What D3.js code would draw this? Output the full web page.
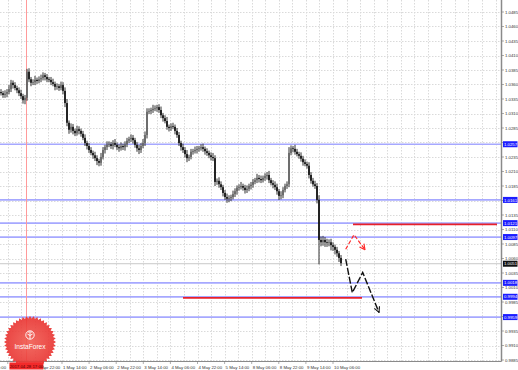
<!DOCTYPE html>
<html><head><meta charset="utf-8">
<script src="https://cdn.jsdelivr.net/npm/d3@7"></script>
<style>html,body{margin:0;padding:0;background:#fff;overflow:hidden}svg{display:block}</style>
</head><body><svg id="c" width="518" height="370"></svg>
<script>
// ---- data ----
const firstOpen = 1.0347;
const closes = [
1.0345,1.0342,1.0344,1.0347,1.0352,1.0363,1.0359,1.0354,1.0350,1.0345,
1.0340,1.0333,1.0337,1.0382,1.0369,1.0363,1.0364,1.0368,1.0366,1.0369,
1.0371,1.0376,1.0373,1.0369,1.0368,1.0364,1.0361,1.0356,1.0357,1.0354,
1.0359,1.0349,1.0328,1.0294,1.0282,1.0287,1.0280,1.0276,1.0283,1.0280,
1.0275,1.0268,1.0259,1.0254,1.0247,1.0242,1.0238,1.0233,1.0228,1.0225,
1.0235,1.0247,1.0252,1.0256,1.0257,1.0254,1.0259,1.0256,1.0252,1.0250,
1.0254,1.0252,1.0257,1.0263,1.0266,1.0268,1.0264,1.0256,1.0250,1.0247,
1.0254,1.0259,1.0273,1.0313,1.0314,1.0316,1.0318,1.0319,1.0321,1.0316,
1.0307,1.0302,1.0297,1.0287,1.0285,1.0288,1.0287,1.0280,1.0273,1.0259,
1.0252,1.0247,1.0240,1.0233,1.0235,1.0244,1.0245,1.0247,1.0249,1.0250,
1.0252,1.0249,1.0245,1.0242,1.0238,1.0235,1.0233,1.0192,1.0194,1.0188,
1.0183,1.0173,1.0166,1.0163,1.0164,1.0166,1.0171,1.0176,1.0182,1.0183,
1.0185,1.0182,1.0178,1.0180,1.0185,1.0187,1.0192,1.0195,1.0199,1.0197,
1.0195,1.0199,1.0202,1.0204,1.0195,1.0190,1.0187,1.0183,1.0176,1.0168,
1.0169,1.0178,1.0185,1.0188,1.0242,1.0250,1.0249,1.0244,1.0240,1.0237,
1.0232,1.0226,1.0223,1.0220,1.0204,1.0194,1.0188,1.0185,1.0161,1.0092,
1.0088,1.0092,1.0088,1.0087,1.0088,1.0083,1.0080,1.0075,1.0069,1.0061,1.0052];
// upper / lower wick length in pips
const wickUp = [
5,4,6,5,7,5,4,5,4,5, 6,4,5,5,6,4,5,7,4,5, 6,5,4,5,4,5,6,4,5,4, 6,5,6,7,4,6,5,4,6,5,
4,5,6,4,5,5,4,6,5,4, 7,5,4,6,5,4,5,7,4,5, 6,4,5,5,4,6,5,4,5,6, 5,7,6,6,5,4,7,5,4,5,
6,4,5,7,4,5,6,4,5,5, 4,6,5,7,4,5,4,6,5,4, 5,6,4,5,4,5,7,5,4,6, 5,4,5,6,5,4,6,5,4,5,
7,4,5,6,4,5,5,4,7,5, 6,4,5,5,7,4,5,6,6,4, 7,5,4,5,10,5,4,7,5,4, 6,5,5,4,6,5,5,6,5,8,
6,7,5,6,5,6,5,4,5,4,5];
const wickDown = [
4,5,5,6,4,5,6,4,5,5, 5,6,7,5,5,6,4,5,5,4, 5,4,6,5,4,5,4,6,5,5, 4,6,7,6,7,5,6,5,4,6,
5,4,5,6,5,4,6,5,7,6, 5,4,6,5,4,5,6,4,5,6, 4,5,6,5,4,5,6,5,6,7, 5,4,5,6,4,5,5,4,6,5,
5,6,4,5,6,5,4,6,5,5, 6,5,6,7,5,4,5,4,6,5, 4,5,6,5,5,6,5,7,5,6, 5,6,5,7,6,5,4,5,6,5,
4,5,6,5,4,6,5,4,5,6, 5,4,5,6,5,4,6,5,6,7, 6,5,4,5,5,4,6,5,4,5, 5,6,4,5,6,5,4,5,6,42,
7,6,8,7,6,9,7,8,6,7,5];
const priceTickLabels = ["1.0485","1.0460","1.0435","1.0410","1.0385","1.0360","1.0335","1.0310",
"1.0285","1.0260","1.0235","1.0210","1.0185","1.0160","1.0135","1.0110","1.0085","1.0060",
"1.0035","1.0010","0.9985","0.9960","0.9935","0.9910","0.9885"];
const timeTickLabels = ["27 Apr 14:00","28 Apr 06:00","28 Apr 22:00","1 May 14:00","2 May 06:00",
"2 May 22:00","3 May 14:00","4 May 06:00","4 May 22:00","5 May 14:00","8 May 06:00",
"8 May 22:00","9 May 14:00","10 May 06:00"];
const levels = [1.0257, 1.0161, 1.0121, 1.0097, 1.0018, 0.9994, 0.9959];
const currentPrice = 1.0051;
const markerHour = 27, markerLabel = "2017.04.28 17:00";
const redSegments = [[176, 248, 1.0119], [91, 180.5, 0.9992]];
const redArrow = [[172.35, 1.0076], [176.5, 1.0101], [182, 1.0075]];
const blackArrow = [[172.35, 1.0059], [175.65, 1.0001], [180.85, 1.0036], [189, 0.9967]];

// ---- scales ----
const svg = d3.select("#c");
const x = d3.scaleLinear().domain([0, 250]).range([1, 501]);
const y = d3.scaleLinear().domain([0.9885, 1.0485]).range([360, 12]);
const tx = d3.scaleLinear().domain([0, 208]).range([-19.3, 333]);
const R = 501.5, B = 361.5;
const FONT = "'Liberation Sans', Arial, sans-serif";
const mx = tx(markerHour);

const defs = svg.append("defs");
defs.append("clipPath").attr("id","plot").append("rect").attr("x",0).attr("y",0).attr("width",R).attr("height",B);
defs.append("clipPath").attr("id","tclip").append("rect").attr("x",mx+17).attr("y",B).attr("width",518).attr("height",10);
const mk = (id,col)=>defs.append("marker").attr("id",id).attr("viewBox","0 0 10 10").attr("refX",9).attr("refY",5)
  .attr("markerWidth",7).attr("markerHeight",7).attr("markerUnits","userSpaceOnUse").attr("orient","auto")
  .append("path").attr("d","M1,1 L9,5 L1,9").attr("fill","none").attr("stroke",col).attr("stroke-width",1.6);
mk("ar","#ff2a2a"); mk("ab","#111");

const plot = svg.append("g").attr("clip-path","url(#plot)");

// grid
const priceVals = priceTickLabels.map(Number);
plot.selectAll("line.hg").data(priceVals).join("line")
  .attr("x1",0).attr("x2",R).attr("y1",d=>Math.round(y(d))+0.5).attr("y2",d=>Math.round(y(d))+0.5)
  .attr("stroke","#dadada").attr("stroke-width",1).attr("stroke-dasharray","1.5,1.5");
const gridHours = d3.range(0, 312, 8);
plot.selectAll("line.vg").data(gridHours).join("line")
  .attr("y1",0).attr("y2",B).attr("x1",d=>Math.round(tx(d))+0.5).attr("x2",d=>Math.round(tx(d))+0.5)
  .attr("stroke","#dadada").attr("stroke-width",1).attr("stroke-dasharray","1.5,1.5");

// current price line
plot.append("line").attr("x1",0).attr("x2",R).attr("y1",y(currentPrice)).attr("y2",y(currentPrice))
  .attr("stroke","#c8c8c8").attr("stroke-width",1);

// blue levels
plot.selectAll("line.lv").data(levels).join("line")
  .attr("x1",0).attr("x2",R).attr("y1",d=>y(d)).attr("y2",d=>y(d))
  .attr("stroke","#a6a8ff").attr("stroke-width",1.7);

// marker vertical line
plot.append("line").attr("x1",Math.round(mx)+0.5).attr("x2",Math.round(mx)+0.5)
  .attr("y1",0).attr("y2",B).attr("stroke","#ff9a9a").attr("stroke-width",1);

// candles
const candles = closes.map((c,i)=>{const o = i ? closes[i-1] : firstOpen;
  return {i,o,c,h:Math.max(o,c)+wickUp[i]*1e-4,l:Math.min(o,c)-wickDown[i]*1e-4};});
const cg = plot.append("g");
cg.selectAll("line").data(candles).join("line")
  .attr("x1",d=>x(d.i)).attr("x2",d=>x(d.i)).attr("y1",d=>y(d.h)).attr("y2",d=>y(d.l))
  .attr("stroke","#333").attr("stroke-width",1);
cg.selectAll("rect").data(candles).join("rect")
  .attr("x",d=>x(d.i)-0.85).attr("width",1.7)
  .attr("y",d=>y(Math.max(d.o,d.c))).attr("height",d=>Math.max(0.8,Math.abs(y(d.o)-y(d.c))))
  .attr("fill",d=>d.c>=d.o?"#666":"#111");

// red segments
plot.selectAll("line.rs").data(redSegments).join("line")
  .attr("x1",d=>x(d[0])).attr("x2",d=>x(d[1])).attr("y1",d=>y(d[2])).attr("y2",d=>y(d[2]))
  .attr("stroke","#e8202a").attr("stroke-width",1.8);

// arrows
const ln = d3.line().x(d=>x(d[0])).y(d=>y(d[1]));
plot.append("path").attr("d",ln(redArrow)).attr("fill","none").attr("stroke","#ff2a2a")
  .attr("stroke-width",1.2).attr("stroke-dasharray","4,2").attr("marker-end","url(#ar)");
plot.append("path").attr("d",ln(blackArrow)).attr("fill","none").attr("stroke","#111")
  .attr("stroke-width",1.4).attr("stroke-dasharray","7,2").attr("marker-end","url(#ab)");

// axes lines
svg.append("line").attr("x1",R).attr("x2",R).attr("y1",0).attr("y2",B).attr("stroke","#8a8a8a").attr("stroke-width",1.5);
svg.append("line").attr("x1",0).attr("x2",R).attr("y1",B).attr("y2",B).attr("stroke","#8a8a8a").attr("stroke-width",1);

// price axis labels (those under a level label are hidden, as in the picture)
const visibleTicks = priceTickLabels.filter(t=>!levels.some(l=>Math.abs(y(l)-y(+t))<4.5) && Math.abs(y(currentPrice)-y(+t))>=4.5);
const pa = svg.append("g");
pa.selectAll("line").data(priceVals).join("line").attr("x1",R).attr("x2",R+2.5)
  .attr("y1",d=>y(d)).attr("y2",d=>y(d)).attr("stroke","#777").attr("stroke-width",0.6);
pa.selectAll("text").data(visibleTicks).join("text")
  .attr("x",505).attr("y",d=>y(+d)+1.5).text(d=>d)
  .attr("font-family",FONT).attr("font-size",4.3).attr("fill","#333");

// level labels
const lb = svg.append("g");
lb.selectAll("rect").data(levels).join("rect").attr("x",503).attr("width",14.5)
  .attr("y",d=>y(d)-3).attr("height",6).attr("fill","#1c1cff");
lb.selectAll("text").data(levels).join("text").attr("x",504).attr("y",d=>y(d)+1.6)
  .text(d=>d.toFixed(4)).attr("font-family",FONT).attr("font-size",4.3).attr("fill","#fff");
lb.append("rect").attr("x",503).attr("width",14.5).attr("y",y(currentPrice)-3).attr("height",6).attr("fill","#111");
lb.append("text").attr("x",504).attr("y",y(currentPrice)+1.6).text(currentPrice.toFixed(4))
  .attr("font-family",FONT).attr("font-size",4.3).attr("fill","#fff");

// time axis (labels hidden under the marker box are not drawn, partly hidden ones are clipped)
const ta = svg.append("g");
const tIdx = timeTickLabels.map((d,i)=>({d,h:i*16,x:tx(i*16)}));
ta.selectAll("line").data(tIdx).join("line").attr("x1",d=>d.x).attr("x2",d=>d.x)
  .attr("y1",B).attr("y2",B+2.5).attr("stroke","#777").attr("stroke-width",0.6);
ta.selectAll("text").data(tIdx.filter(d=>!(d.x>mx-20 && d.x+24<mx+18))).join("text")
  .attr("x",d=>d.x+1).attr("y",368.5).text(d=>d.d)
  .attr("clip-path",d=>(d.x<mx+17 && d.x+24>mx+17)?"url(#tclip)":null)
  .attr("font-family",FONT).attr("font-size",4.3).attr("fill","#333");

// logo
const lg = svg.append("g").attr("transform","translate(30,342)");
const spikes = 44;
const star = d3.range(spikes*2).map(k=>{const a=k*Math.PI/spikes, r=k%2?23.5:26; return [r*Math.sin(a), -r*Math.cos(a)];});
const grad = defs.append("radialGradient").attr("id","lgg");
grad.append("stop").attr("offset","0%").attr("stop-color","#f05a50");
grad.append("stop").attr("offset","100%").attr("stop-color","#e8302e");
lg.append("path").attr("d","M"+star.join("L")+"Z").attr("fill","url(#lgg)").attr("opacity",0.9);
lg.append("circle").attr("cx",0).attr("cy",-7).attr("r",4.2).attr("fill","none").attr("stroke","#fff").attr("stroke-width",0.9);
lg.append("path").attr("d","M0,-9.5 L0,-2.8 M-2.6,-8 Q0,-5 2.6,-8 M-2,-10 L2,-10").attr("fill","none").attr("stroke","#fff").attr("stroke-width",0.9);
lg.append("text").attr("x",0).attr("y",7).attr("text-anchor","middle").text("InstaForex")
  .attr("font-family",FONT).attr("font-size",6.6).attr("fill","#fff");

// marker date box
svg.append("rect").attr("x",mx-17).attr("y",362.5).attr("width",34).attr("height",7).attr("fill","#f22a2a");
svg.append("text").attr("x",mx).attr("y",368.3).attr("text-anchor","middle").text(markerLabel)
  .attr("font-family",FONT).attr("font-size",4.3).attr("fill","#500");
</script></body></html>
